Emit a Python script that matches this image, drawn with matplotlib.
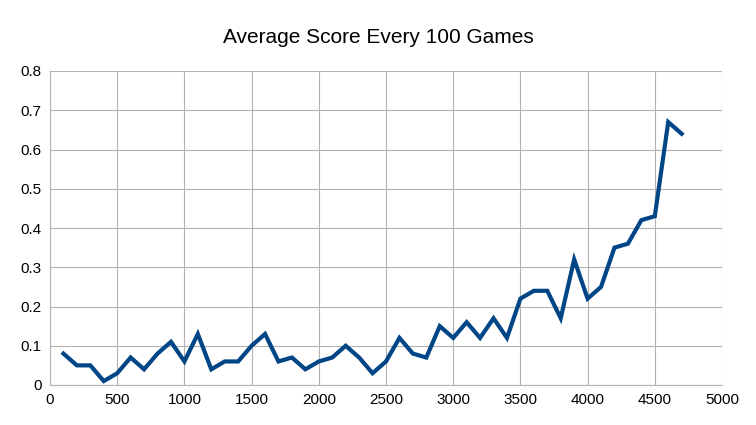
import matplotlib.pyplot as plt
from matplotlib.ticker import FormatStrFormatter

plt.rcParams['font.family'] = ['Liberation Sans', 'DejaVu Sans']

games = list(range(100, 4800, 100))
avg_score = [0.08, 0.05, 0.05, 0.01, 0.03, 0.07, 0.04, 0.08, 0.11, 0.06,
             0.13, 0.04, 0.06, 0.06, 0.10, 0.13, 0.06, 0.07, 0.04, 0.06,
             0.07, 0.10, 0.07, 0.03, 0.06, 0.12, 0.08, 0.07, 0.15, 0.12,
             0.16, 0.12, 0.17, 0.12, 0.22, 0.24, 0.24, 0.17, 0.32, 0.22,
             0.25, 0.35, 0.36, 0.42, 0.43, 0.67, 0.64]

fig = plt.figure(figsize=(7.56, 4.25), dpi=100)
ax = fig.add_axes([50/756, 40/425, 672/756, 314/425])
ax.plot(games, avg_score, color='#004586', linewidth=3, solid_joinstyle='miter')
ax.set_xlim(0, 5000)
ax.set_ylim(0, 0.8)
ax.set_xticks(range(0, 5001, 500))
ax.set_yticks([i / 10 for i in range(9)])
ax.yaxis.set_major_formatter(FormatStrFormatter('%g'))
ax.grid(True, color='#b3b3b3', linewidth=0.8)
ax.set_axisbelow(True)
for side in ['top', 'right']:
    ax.spines[side].set_visible(False)
ax.spines['left'].set_color('#b3b3b3')
ax.spines['bottom'].set_color('#b3b3b3')
ax.tick_params(length=0, labelsize=11, pad=6)
fig.suptitle('Average Score Every 100 Games', y=0.935, fontsize=15)
fig.savefig('out.png')
